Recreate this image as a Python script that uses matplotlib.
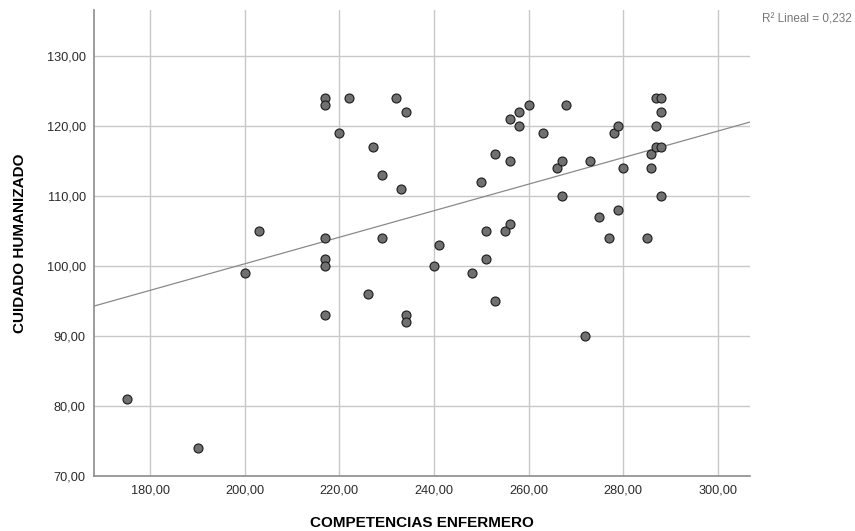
import numpy as np
import matplotlib
matplotlib.use("Agg")
import matplotlib.pyplot as plt
from matplotlib.ticker import FuncFormatter

plt.rcParams['font.family'] = ['Liberation Sans', 'DejaVu Sans']

# Competencias enfermero (x) vs cuidado humanizado (y)
competencias = [175, 190, 200, 203,
                217, 217, 217, 217, 217, 217,
                220, 222, 226, 227, 229, 229, 232, 233, 234, 234, 234,
                240, 241, 248, 250, 251, 251, 253, 253, 255,
                256, 256, 256, 258, 258, 260, 263, 266, 267, 267, 268,
                272, 273, 275, 277, 278, 279, 279, 280, 285,
                286, 286, 287, 287, 287, 288, 288, 288, 288]
cuidado = [81, 74, 99, 105,
           124, 123, 104, 101, 100, 93,
           119, 124, 96, 117, 113, 104, 124, 111, 122, 93, 92,
           100, 103, 99, 112, 105, 101, 116, 95, 105,
           121, 115, 106, 122, 120, 123, 119, 114, 115, 110, 123,
           90, 115, 107, 104, 119, 120, 108, 114, 104,
           116, 114, 124, 120, 117, 124, 122, 117, 110]

x_ticks = [180, 200, 220, 240, 260, 280, 300]
y_ticks = [70, 80, 90, 100, 110, 120, 130]
r2_label = 'R² Lineal = 0,232'

x = np.array(competencias, dtype=float)
y = np.array(cuidado, dtype=float)

# linear fit
slope, intercept = np.polyfit(x, y, 1)

fig = plt.figure(figsize=(8.55, 5.31), dpi=100)
ax = fig.add_axes([0.110, 0.1036, 0.767, 0.877])

xmin, xmax = 168.1, 306.8
ax.set_xlim(xmin, xmax)
ax.set_ylim(70, 136.6)

ax.set_xticks(x_ticks)
ax.set_yticks(y_ticks)
fmt = FuncFormatter(lambda v, p: ('%.2f' % v).replace('.', ','))
ax.xaxis.set_major_formatter(fmt)
ax.yaxis.set_major_formatter(fmt)
ax.tick_params(length=0, labelsize=9.2, colors='#2a2a2a', pad=6)

ax.grid(True, color='#c8c8c8', linewidth=1.0)
ax.set_axisbelow(True)

for side in ['top', 'right']:
    ax.spines[side].set_visible(False)
for side in ['left', 'bottom']:
    ax.spines[side].set_color('#8c8c8c')
    ax.spines[side].set_linewidth(1.2)

xs = np.array([xmin, xmax])
ax.plot(xs, intercept + slope * xs, color='#8a8a8a', linewidth=0.9, zorder=2)

ax.scatter(x, y, s=42, facecolor='#707070', edgecolor='#1a1a1a',
           linewidth=0.8, zorder=3)

ax.set_xlabel('COMPETENCIAS ENFERMERO', fontsize=11, fontweight='bold', labelpad=14)
ax.set_ylabel('CUIDADO HUMANIZADO', fontsize=11, fontweight='bold', labelpad=14)

fig.text(0.996, 0.964, r2_label, ha='right', va='center', fontsize=8.5, color='#777777')

fig.savefig('out.png', dpi=100)
